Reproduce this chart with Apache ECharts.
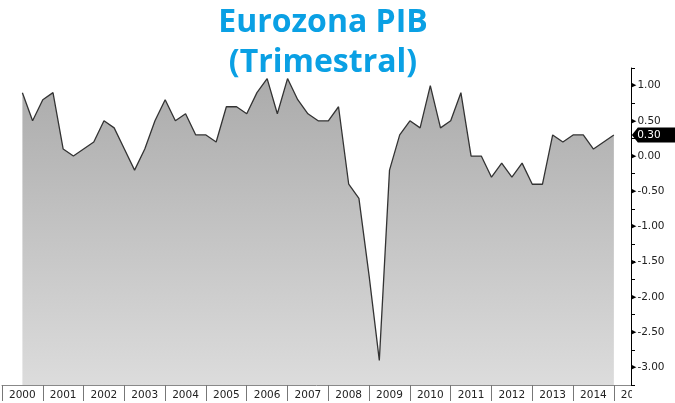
<!DOCTYPE html>
<html>
<head>
<meta charset="utf-8">
<script src="https://cdn.jsdelivr.net/npm/echarts@6/dist/echarts.min.js"></script>
<style>
html, body { margin: 0; padding: 0; background: #fff; }
#chart { width: 675px; height: 403px; }
</style>
</head>
<body>
<div id="chart"></div>
<script>
// trimestres (fin de trimestre) y crecimiento del PIB, % t/t
const quarters = [
  '2000T2', '2000T3', '2000T4',
  '2001T1', '2001T2', '2001T3', '2001T4',
  '2002T1', '2002T2', '2002T3', '2002T4',
  '2003T1', '2003T2', '2003T3', '2003T4',
  '2004T1', '2004T2', '2004T3', '2004T4',
  '2005T1', '2005T2', '2005T3', '2005T4',
  '2006T1', '2006T2', '2006T3', '2006T4',
  '2007T1', '2007T2', '2007T3', '2007T4',
  '2008T1', '2008T2', '2008T3', '2008T4',
  '2009T1', '2009T2', '2009T3', '2009T4',
  '2010T1', '2010T2', '2010T3', '2010T4',
  '2011T1', '2011T2', '2011T3', '2011T4',
  '2012T1', '2012T2', '2012T3', '2012T4',
  '2013T1', '2013T2', '2013T3', '2013T4',
  '2014T1', '2014T2', '2014T3', '2014T4'
];
const pib = [
  0.9, 0.5, 0.8,
  0.9, 0.1, 0.0, 0.1,
  0.2, 0.5, 0.4, 0.1,
  -0.2, 0.1, 0.5, 0.8,
  0.5, 0.6, 0.3, 0.3,
  0.2, 0.7, 0.7, 0.6,
  0.9, 1.1, 0.6, 1.1,
  0.8, 0.6, 0.5, 0.5,
  0.7, -0.4, -0.6, -1.7,
  -2.9, -0.2, 0.3, 0.5,
  0.4, 1.0, 0.4, 0.5,
  0.9, 0.0, 0.0, -0.3,
  -0.1, -0.3, -0.1, -0.4,
  -0.4, 0.3, 0.2, 0.3,
  0.3, 0.1, 0.2, 0.3
];
const yearLabels = ['2000', '2001', '2002', '2003', '2004', '2005', '2006', '2007',
  '2008', '2009', '2010', '2011', '2012', '2013', '2014', '2015'];
const yLabels = ['-3.00', '-2.50', '-2.00', '-1.50', '-1.00', '-0.50', '0.00', '0.50', '1.00'];

const toYear = q => Number(q.slice(0, 4)) + Number(q.slice(5)) / 4;
const seriesData = quarters.map((q, i) => [toYear(q), pib[i]]);
const last = seriesData[seriesData.length - 1];

const chartDom = document.getElementById('chart');
const chart = echarts.init(chartDom, null, { renderer: 'canvas' });

const option = {
  animation: false,
  backgroundColor: '#fff',
  title: {
    text: 'Eurozona PIB\n(Trimestral)',
    left: 323,
    top: 3,
    textAlign: 'center',
    padding: 0,
    textStyle: {
      color: '#0aa0e4',
      fontFamily: 'Open Sans',
      fontWeight: 'bold',
      fontSize: 32,
      lineHeight: 40
    }
  },
  grid: { left: 2, right: 44, top: 68, bottom: 18, containLabel: false },
  xAxis: {
    type: 'value',
    min: 2000,
    max: 2015.42,
    interval: 1,
    splitLine: { show: false },
    axisLine: { onZero: false, lineStyle: { color: '#888', width: 1 } },
    axisTick: { length: 16, lineStyle: { color: '#777' } },
    axisLabel: {
      align: 'left',
      padding: [0, 0, 0, 7],
      margin: 5,
      color: '#222',
      fontSize: 10.5,
      fontFamily: 'DejaVu Sans',
      showMaxLabel: false,
      formatter: v => {
        const i = yearLabels.indexOf(String(v));
        return i >= 0 ? yearLabels[i] : '';
      }
    }
  },
  yAxis: {
    type: 'value',
    position: 'right',
    min: -3.25,
    max: 1.25,
    interval: 0.25,
    splitLine: { show: false },
    axisLine: { lineStyle: { color: '#000', width: 1 } },
    axisTick: { length: 4, lineStyle: { color: '#000' } },
    axisLabel: {
      margin: 0,
      color: '#222',
      fontSize: 10.5,
      fontFamily: 'DejaVu Sans',
      formatter: v => {
        const s = v.toFixed(2);
        return yLabels.includes(s) ? '{a|\u25B6}' + s : '';
      },
      rich: {
        a: { fontSize: 7, color: '#000', padding: [0, 1, 0, 0] }
      }
    }
  },
  graphic: [{
    type: 'rect',
    shape: { x: 632, y: 386, width: 43, height: 17 },
    style: { fill: '#fff' },
    z: 100
  }],
  series: [{
    type: 'line',
    data: seriesData,
    symbol: 'none',
    lineStyle: { color: '#333', width: 1.3 },
    areaStyle: {
      origin: 'start',
      opacity: 1,
      color: new echarts.graphic.LinearGradient(0, 0, 0, 1, [
        { offset: 0, color: '#ababab' },
        { offset: 1, color: '#dcdcdc' }
      ])
    },
    markPoint: {
      symbol: 'path://M0,7.5 L6,0 L44,0 L44,15 L6,15 Z',
      symbolSize: [44, 15],
      symbolKeepAspect: false,
      symbolOffset: [40, 0],
      itemStyle: { color: '#000' },
      label: {
        show: true,
        position: 'inside',
        offset: [-5, 0],
        color: '#fff',
        fontSize: 10.5,
        fontFamily: 'DejaVu Sans',
        formatter: p => p.value.toFixed(2)
      },
      data: [{ coord: last, value: last[1] }]
    }
  }]
};

chart.setOption(option);
</script>
</body>
</html>
